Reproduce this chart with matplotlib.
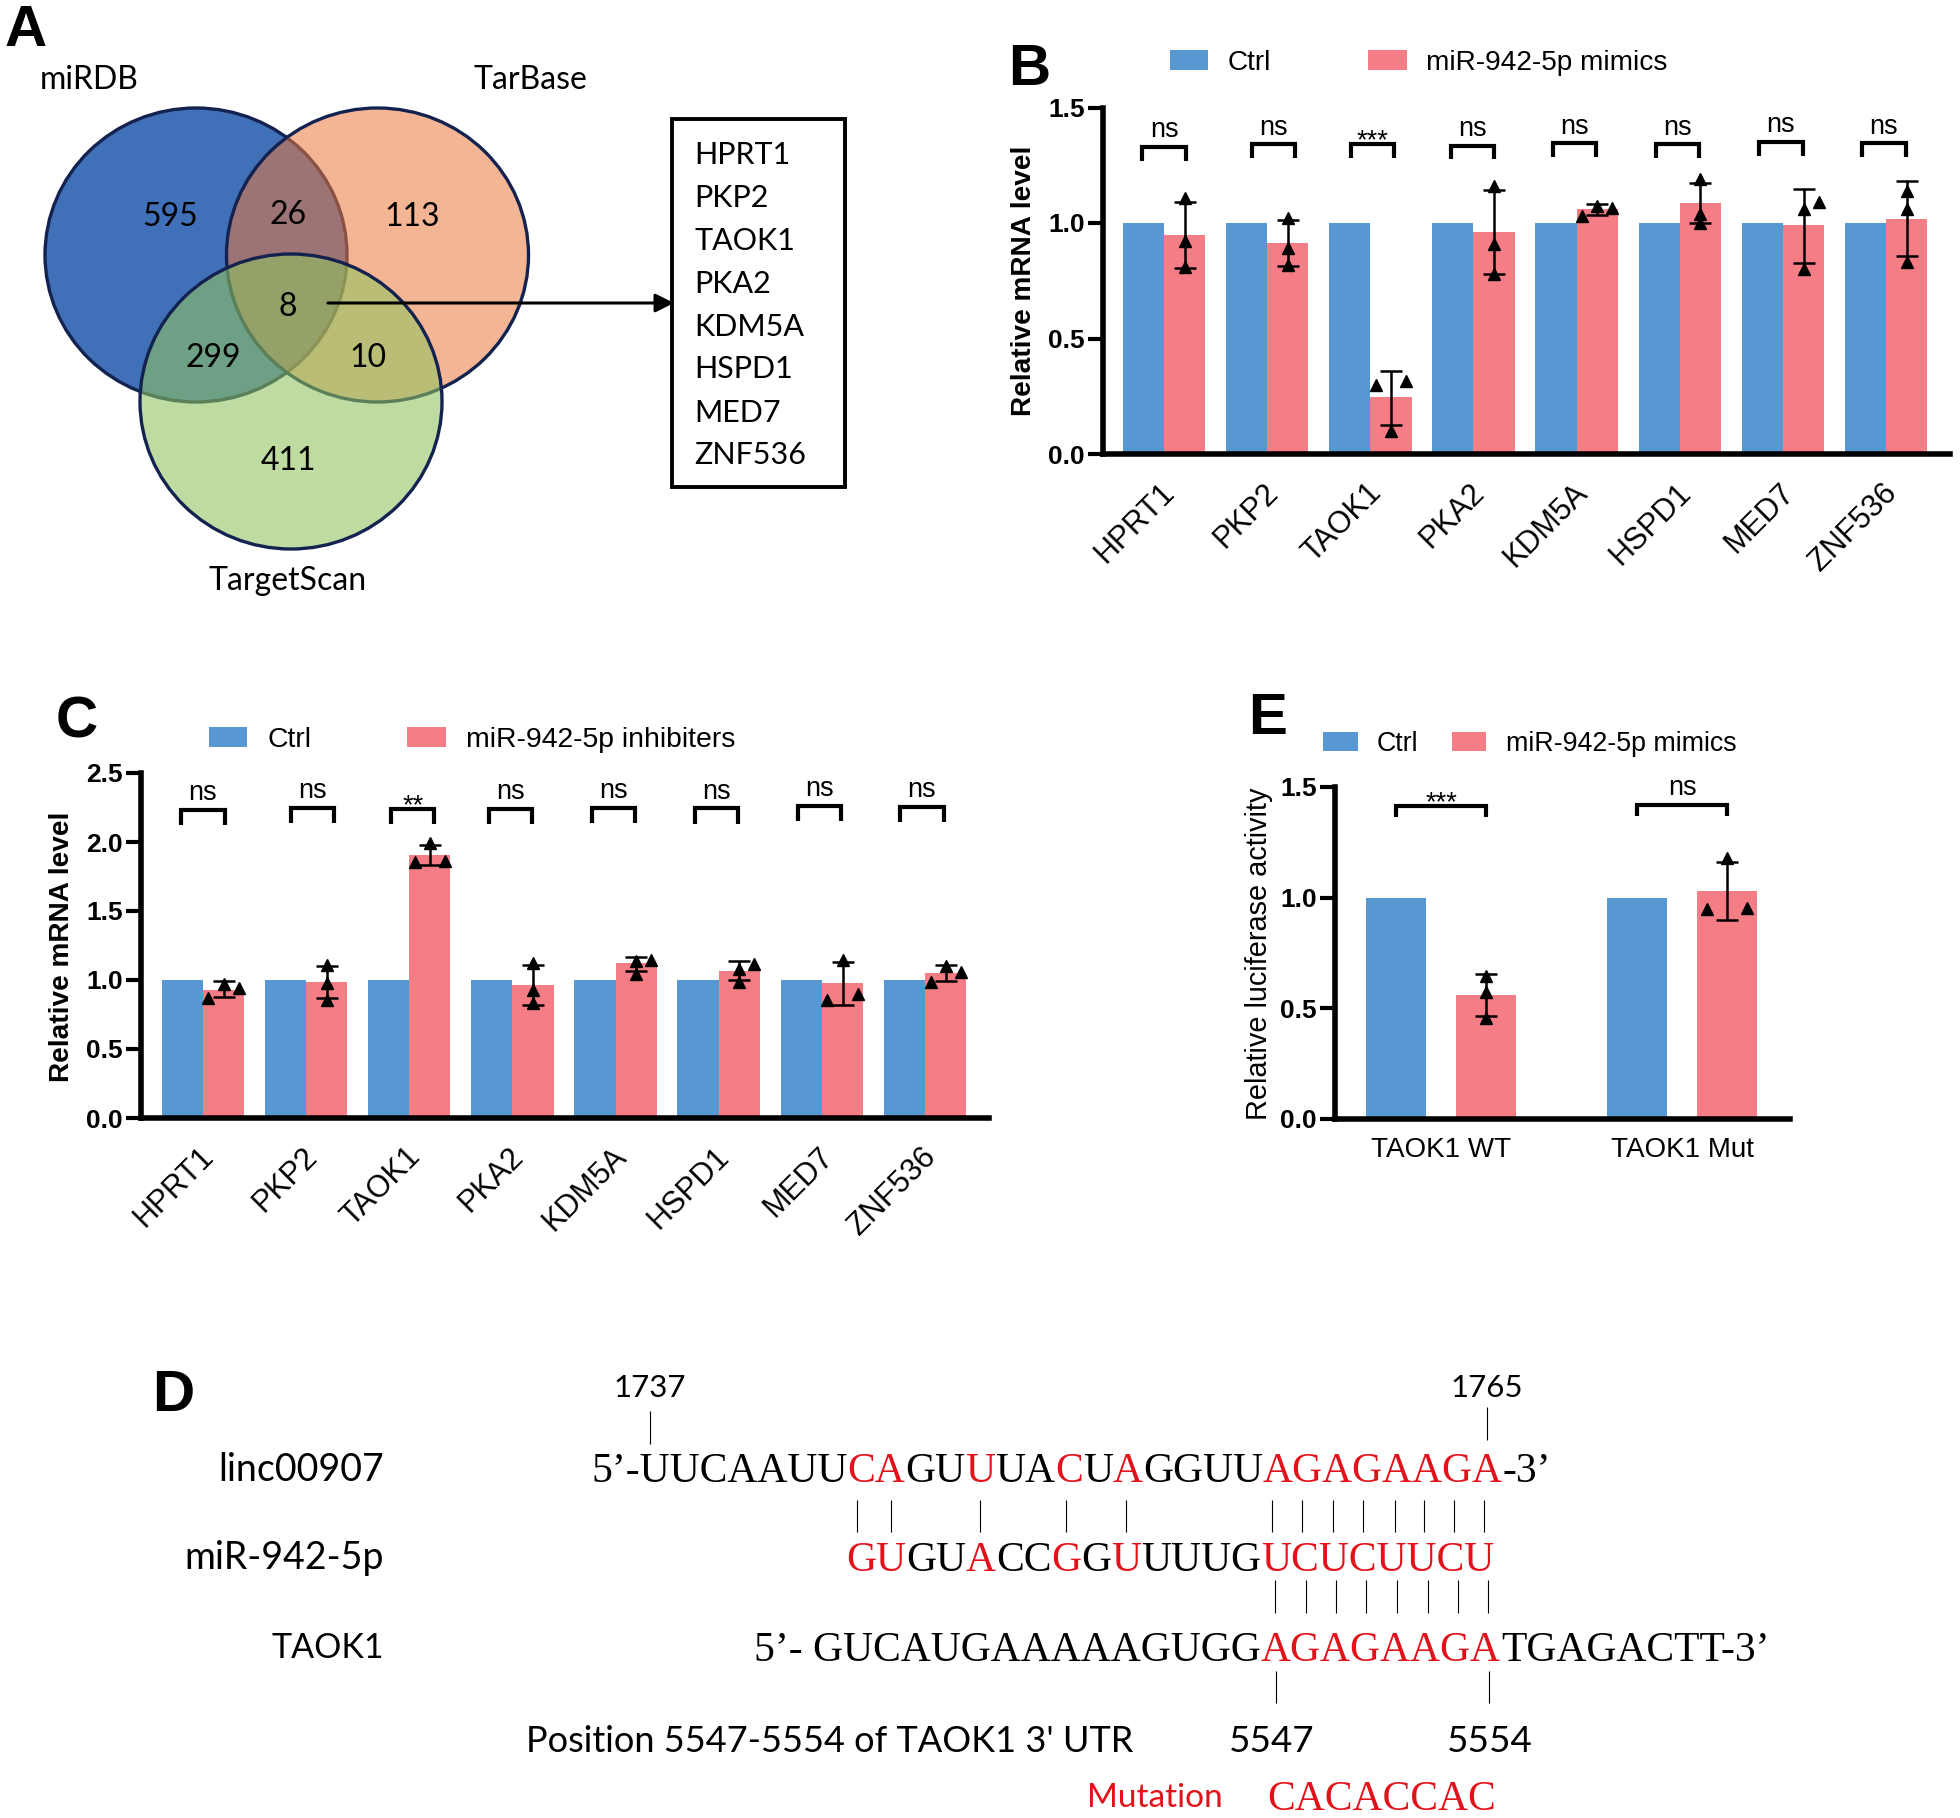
import matplotlib
matplotlib.use('Agg')
import matplotlib.pyplot as plt
from matplotlib.patches import Ellipse, Rectangle
from matplotlib.transforms import ScaledTranslation

plt.rcParams['font.family'] = ['Liberation Sans', 'DejaVu Sans']

W, H = 1960, 1818
BLUE = '#5798D3'
RED = '#F57D86'

genes = ['HPRT1', 'PKP2', 'TAOK1', 'PKA2', 'KDM5A', 'HSPD1', 'MED7', 'ZNF536']

# panel B
b_ctrl = [1, 1, 1, 1, 1, 1, 1, 1]
b_mean = [0.95, 0.913, 0.245, 0.963, 1.062, 1.087, 0.99, 1.017]
b_low = [0.806, 0.812, 0.124, 0.778, 1.036, 0.998, 0.829, 0.856]
b_high = [1.093, 1.011, 0.359, 1.141, 1.084, 1.174, 1.146, 1.18]
b_points = [[1.11, 0.92, 0.81], [1.02, 0.89, 0.82], [0.30, 0.315, 0.10], [1.16, 0.91, 0.78],
            [1.03, 1.075, 1.065], [1.19, 1.04, 1.0], [1.09, 1.06, 0.80], [1.14, 1.06, 0.83]]
b_sides = [[0, 0, 0], [0, 0, 0], [-1, 1, 0], [0, 0, 0],
           [-1, 0, 1], [0, 0, 0], [1, 0, 0], [0, 0, 0]]
b_sig = ['ns', 'ns', '***', 'ns', 'ns', 'ns', 'ns', 'ns']
b_br_top = [1.33, 1.34, 1.34, 1.335, 1.345, 1.34, 1.35, 1.345]
b_br_shift = [0, 0.06, 0.02, -0.01, -0.02, -0.02, -0.02, -0.02]

# panel C
c_ctrl = [1, 1, 1, 1, 1, 1, 1, 1]
c_mean = [0.93, 0.987, 1.907, 0.966, 1.121, 1.067, 0.977, 1.054]
c_low = [0.879, 0.871, 1.835, 0.822, 1.067, 1.0, 0.822, 0.992]
c_high = [0.99, 1.098, 1.977, 1.109, 1.168, 1.14, 1.127, 1.111]
c_points = [[0.866, 0.97, 0.94], [1.106, 0.977, 0.853], [1.855, 1.99, 1.86], [1.124, 0.93, 0.832],
            [1.046, 1.137, 1.142], [1.08, 0.982, 1.119], [0.858, 1.142, 0.9], [0.982, 1.098, 1.059]]
c_sides = [[-1, 0, 1], [0, 0, 0], [-1, 0, 1], [0, 0, 0],
           [0, 0, 1], [0, 0, 1], [-1, 0, 1], [-1, 0, 1]]
c_sig = ['ns', 'ns', '**', 'ns', 'ns', 'ns', 'ns', 'ns']
c_br_top = [2.235, 2.245, 2.24, 2.24, 2.25, 2.243, 2.26, 2.255]
c_br_shift = [0, 0.06, 0.035, -0.02, -0.02, -0.02, -0.02, -0.03]

# panel E
e_groups = ['TAOK1 WT', 'TAOK1 Mut']
e_ctrl = [1, 1]
e_mean = [0.56, 1.029]
e_low = [0.465, 0.897]
e_high = [0.657, 1.16]
e_points = [[0.648, 0.573, 0.455], [0.947, 1.181, 0.952]]
e_sides = [[0, 0, 0], [-1, 0, 1]]
e_sig = ['***', 'ns']
e_br_top = [1.415, 1.42]

# panel A
venn_counts = ['595', '26', '113', '8', '299', '10', '411']
venn_count_xy = [(170, 217), (288, 215), (412, 217), (288, 307), (213, 358), (368, 358), (288, 461)]
venn_names = ['miRDB', 'TarBase', 'TargetScan']
venn_name_xy = [(89, 80), (530, 80), (288, 581)]
gene_y = [155, 198, 241, 284, 327, 369, 413, 455]

# panel D
seq_linc = [('5’-UUCAAUU', 'k'), ('CA', 'r'), ('GU', 'k'), ('U', 'r'), ('UA', 'k'), ('C', 'r'), ('U', 'k'),
            ('A', 'r'), ('GGUU', 'k'), ('AGAGAAGA', 'r'), ('-3’', 'k')]
seq_mir = [('GU', 'r'), ('GU', 'k'), ('A', 'r'), ('CC', 'k'), ('G', 'r'), ('G', 'k'), ('U', 'r'),
           ('UUUG', 'k'), ('UCUCUUCU', 'r')]
seq_taok = [('5’- GUCAUGAAAAAGUGG', 'k'), ('AGAGAAGA', 'r'), ('TGAGACTT-3’', 'k')]
pair_x_top = [857, 891, 980, 1066, 1126, 1272, 1302, 1333, 1363, 1395, 1424, 1454, 1484]
pair_x_bottom = [1275, 1306, 1336, 1366, 1397, 1428, 1458, 1488]

fig = plt.figure(figsize=(W / 100, H / 100), dpi=100, facecolor='white')

# full figure axes in pixels for the venn, the sequences and the panel letters
bg = fig.add_axes([0, 0, 1, 1])
bg.set_xlim(0, W)
bg.set_ylim(H, 0)
bg.axis('off')


def panel_axes(left, top, right, bottom):
    return fig.add_axes([left / W, 1 - bottom / H, (right - left) / W, (bottom - top) / H])


def style_axes(ax, ymax, step, label, label_xy, label_weight, label_size):
    ax.set_ylim(0, ymax)
    ticks = [i * step for i in range(int(round(ymax / step)) + 1)]
    ax.set_yticks(ticks)
    ax.set_yticklabels(['%.1f' % t for t in ticks], fontweight='bold', fontsize=19)
    ax.tick_params(axis='y', length=11, width=3, pad=2)
    ax.tick_params(axis='x', length=0)
    for s in ['top', 'right']:
        ax.spines[s].set_visible(False)
    ax.spines['left'].set_linewidth(4)
    ax.spines['bottom'].set_linewidth(4)
    ax.patch.set_alpha(0)
    ax.set_ylabel(label, fontweight=label_weight, fontsize=label_size)
    ax.yaxis.set_label_coords(label_xy[0], label_xy[1], transform=bg.transData)


def draw_bars(ax, x, ctrl, mean, low, high, points, sides, width, sep, side_step, names):
    x1 = [i - sep for i in x]
    x2 = [i + sep for i in x]
    h1 = ax.bar(x1, ctrl, width, color=BLUE, label='Ctrl')
    h2 = ax.bar(x2, mean, width, color=RED, label=names)
    err = [[m - l for m, l in zip(mean, low)], [h - m for m, h in zip(mean, high)]]
    ax.errorbar(x2, mean, yerr=err, fmt='none', ecolor='black', elinewidth=1.8, capsize=8, capthick=1.8)
    for xc, pts, sd in zip(x2, points, sides):
        ax.plot([xc + s * side_step for s in sd], pts, linestyle='none', marker='^', color='black',
                markersize=8, clip_on=False)
    return h1, h2


def draw_brackets(ax, x, tops, drop, half, sig):
    for xc, top, s in zip(x, tops, sig):
        ax.plot([xc - half, xc - half, xc + half, xc + half], [top - drop, top, top, top - drop],
                color='black', lw=3, solid_capstyle='butt', solid_joinstyle='miter')
        if s == 'ns':
            ax.annotate(s, (xc, top), xytext=(0, 7), textcoords='offset points', ha='center',
                        va='baseline', fontsize=19.5)
        else:
            ax.annotate(s, (xc, top), xytext=(0, -3), textcoords='offset points', ha='center',
                        va='baseline', fontsize=19.5)


def draw_legend(handles, labels, x, y, size, hlen, pad, col):
    fig.legend(handles, labels, ncols=2, loc='center left', bbox_to_anchor=(x / W, 1 - y / H), frameon=False,
               fontsize=size, handlelength=hlen, handleheight=0.7, handletextpad=pad, columnspacing=col,
               borderpad=0, borderaxespad=0)


def rotated_gene_labels(ax):
    ax.set_xticklabels(genes, rotation=45, ha='right', va='top', rotation_mode='anchor', fontsize=22)
    ax.tick_params(axis='x', pad=17)
    shift = ScaledTranslation(-3 / 72, 0, fig.dpi_scale_trans)
    for lab in ax.get_xticklabels():
        lab.set_transform(lab.get_transform() + shift)


# panel B
ax_b = panel_axes(1103, 107.5, 1950, 454)
pos = list(range(len(genes)))
bars = draw_bars(ax_b, pos, b_ctrl, b_mean, b_low, b_high, b_points, b_sides, 0.4, 0.2, 0.146, 'miR-942-5p mimics')
draw_brackets(ax_b, [p + s for p, s in zip(pos, b_br_shift)], b_br_top, 0.06, 0.21, b_sig)
style_axes(ax_b, 1.5, 0.5, 'Relative mRNA level', (1037, 281), 'bold', 20.2)
ax_b.set_xlim(-0.592, 7.62)
ax_b.set_xticks(pos)
rotated_gene_labels(ax_b)
draw_legend(bars, ['Ctrl', 'miR-942-5p mimics'], 1170, 62.5, 20.2, 1.37, 0.7, 3.45)

# panel C
ax_c = panel_axes(141, 773, 989, 1118)
bars = draw_bars(ax_c, pos, c_ctrl, c_mean, c_low, c_high, c_points, c_sides, 0.4, 0.2, 0.146, 'miR-942-5p inhibiters')
draw_brackets(ax_c, [p + s for p, s in zip(pos, c_br_shift)], c_br_top, 0.11, 0.21, c_sig)
style_axes(ax_c, 2.5, 0.5, 'Relative mRNA level', (75, 947), 'bold', 20.2)
ax_c.set_xlim(-0.6, 7.62)
ax_c.set_xticks(pos)
rotated_gene_labels(ax_c)
draw_legend(bars, ['Ctrl', 'miR-942-5p inhibiters'], 209, 739.5, 20.4, 1.35, 0.7, 3.4)

# panel E
ax_e = panel_axes(1335, 787, 1790, 1119)
pos_e = list(range(len(e_groups)))
bars = draw_bars(ax_e, pos_e, e_ctrl, e_mean, e_low, e_high, e_points, e_sides, 0.25, 0.187, 0.083, 'miR-942-5p mimics')
draw_brackets(ax_e, pos_e, e_br_top, 0.05, 0.187, e_sig)
style_axes(ax_e, 1.5, 0.5, 'Relative luciferase activity', (1273, 954), 'normal', 20.8)
ax_e.set_xlim(-0.44, 1.448)
ax_e.set_xticks(pos_e)
ax_e.set_xticklabels(e_groups, fontsize=20)
ax_e.tick_params(axis='x', pad=13)
draw_legend(bars, ['Ctrl', 'miR-942-5p mimics'], 1323, 744, 19.3, 1.29, 0.72, 1.25)

# panel letters
for letter, x, y in [('A', 5, 31), ('B', 1008, 70), ('C', 56, 722), ('E', 1248, 719), ('D', 152, 1396)]:
    bg.text(x, y, letter, fontsize=42, fontweight='bold', va='center', ha='left')

# panel A
bg.add_patch(Ellipse((196, 255), 302, 294, facecolor='#3F70B8', edgecolor='none'))
bg.add_patch(Ellipse((196, 255), 302, 294, facecolor='none', edgecolor='#14224F', lw=2.4))
bg.add_patch(Ellipse((377.5, 255), 302, 294, facecolor='#EC783E', edgecolor='none', alpha=0.55))
bg.add_patch(Ellipse((377.5, 255), 302, 294, facecolor='none', edgecolor='#14224F', lw=2.4))
bg.annotate('', xy=(674, 303), xytext=(328, 303),
            arrowprops=dict(arrowstyle='-|>', color='black', lw=2.2, mutation_scale=28, shrinkA=0, shrinkB=0))
bg.add_patch(Ellipse((291, 401.5), 302, 295, facecolor='#8FC35F', edgecolor='none', alpha=0.58))
bg.add_patch(Ellipse((291, 401.5), 302, 295, facecolor='none', edgecolor='#14224F', lw=2.4))
for s, (x, y) in zip(venn_counts, venn_count_xy):
    bg.text(x, y, s, family='Lato', fontsize=23, ha='center', va='center')
for s, (x, y) in zip(venn_names, venn_name_xy):
    bg.text(x, y, s, family='Lato', fontsize=23, ha='center', va='center')
bg.add_patch(Rectangle((672, 119), 173, 368, facecolor='white', edgecolor='black', lw=2.8))
for g, y in zip(genes, gene_y):
    bg.text(694, y, g, family='Lato', fontsize=22, ha='left', va='center')


# panel D
def draw_seq(x, y, parts, size):
    renderer = fig.canvas.get_renderer()
    for s, c in parts:
        t = bg.text(x, y, s, family='Liberation Serif', fontsize=size, ha='left', va='center_baseline',
                    color='#E2121B' if c == 'r' else 'black')
        x = t.get_window_extent(renderer).x1


draw_seq(591, 1467, seq_linc, 30)
draw_seq(846, 1556, seq_mir, 30)
draw_seq(754, 1646, seq_taok, 30)
draw_seq(1267, 1795, [('CACACCAC', 'r')], 30)

for s, y, size in [('linc00907', 1470, 27), ('miR-942-5p', 1558, 27), ('TAOK1', 1648, 24.5)]:
    bg.text(384, y, s, family='Lato', fontsize=size, ha='right', va='center')
bg.text(650, 1388, '1737', family='Lato', fontsize=22.5, ha='center', va='center')
bg.text(1487, 1388, '1765', family='Lato', fontsize=22.5, ha='center', va='center')
bg.text(526, 1741, "Position 5547-5554 of TAOK1 3' UTR", family='Lato', fontsize=26, ha='left', va='center')
bg.text(1272, 1741, '5547', family='Lato', fontsize=26.5, ha='center', va='center')
bg.text(1490, 1741, '5554', family='Lato', fontsize=26.5, ha='center', va='center')
bg.text(1087, 1798, 'Mutation', family='Lato', fontsize=24, color='#E2121B', ha='left', va='center')

bg.vlines([650], 1411, 1444, color='black', lw=0.8)
bg.vlines([1487], 1407, 1440, color='black', lw=0.8)
bg.vlines(pair_x_top, 1500, 1532, color='black', lw=0.8)
bg.vlines(pair_x_bottom, 1580, 1613, color='black', lw=0.8)
bg.vlines([1276, 1489], 1671, 1703, color='black', lw=0.8)

fig.savefig('out.png', dpi=100)
